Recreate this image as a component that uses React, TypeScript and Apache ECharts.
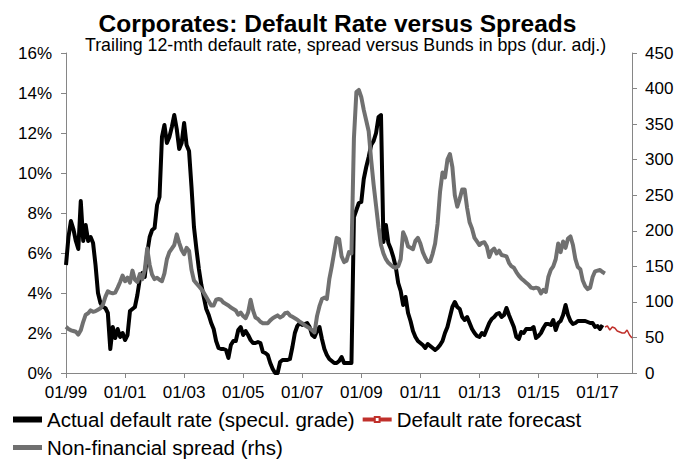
import React, { useEffect, useRef } from "react";
import * as echarts from "echarts";

// Monthly observations, January 1999 onwards
const START_YEAR = 1999;
const MONTH_COUNT = 231; // 01/99 .. 03/18

// Trailing 12-month speculative-grade default rate (%), one value per month from 01/99
const defaultRate: number[] = [
  5.4, 6.8, 7.6, 7.2, 6.6, 6.2, 8.6, 6.6, 7.4, 6.6, 6.8, 6.5,
  5.4, 4.0, 3.5, 3.3, 3.25, 3.0, 1.2, 2.3, 1.75, 2.2, 1.8, 2.0,
  1.65, 1.9, 3.1, 3.2, 3.3, 3.9, 4.7, 5.0, 4.8, 6.0, 6.8, 7.15,
  7.25, 8.4, 8.8, 11.8, 12.4, 11.5, 11.8, 12.3, 12.9, 12.2, 11.2, 11.5,
  12.5, 11.4, 11.1, 9.3, 7.3, 6.2, 5.2, 4.4, 3.8, 3.2, 2.9, 2.5,
  2.2, 1.6, 1.25, 1.2, 1.2, 1.15, 0.75, 1.4, 1.6, 1.6, 2.15, 2.3,
  1.9, 2.1, 1.9, 1.65, 1.5, 1.5, 1.55, 1.5, 1.05, 1.0, 0.9, 0.5,
  0.2, 0.0, 0.0, 0.55, 0.65, 0.65, 0.65, 0.7, 1.3, 2.0, 2.35, 2.5,
  2.4, 2.45, 2.5, 2.3, 1.9, 1.8, 2.1, 2.3, 1.7, 1.2, 0.9, 0.7,
  0.6, 0.5, 0.5, 0.6, 0.8, 0.5, 0.5, 0.5, 0.5, 7.8, 8.15, 8.5,
  8.55, 9.7, 10.3, 10.8, 11.4, 11.6, 12.0, 12.8, 12.9, 6.55, 7.4, 6.5,
  6.2, 5.8, 5.3, 4.5, 4.1, 3.4, 3.8, 3.0, 2.6, 2.1, 1.8, 1.6,
  1.5, 1.4, 1.25, 1.45, 1.35, 1.25, 1.15, 1.25, 1.4, 1.6, 2.0, 2.3,
  2.8, 3.3, 3.55, 3.3, 3.2, 2.8, 2.65, 2.8, 2.5, 2.2, 2.0, 1.85,
  1.8, 2.0, 1.9, 2.2, 2.5, 2.7, 2.8, 2.95, 3.0, 2.8, 2.9, 3.25,
  2.9, 2.6, 2.3, 1.8, 1.7, 2.05, 2.0, 2.2, 2.2, 2.2, 2.3, 1.75,
  1.85, 2.0, 2.25, 2.45, 2.45, 2.4, 2.65, 2.15, 2.5, 2.6, 2.9, 3.4,
  2.9, 2.6, 2.45, 2.5, 2.6, 2.6, 2.6, 2.6, 2.55, 2.5, 2.5, 2.3,
  2.35, 2.2, 2.4,
];

// Forecast of the default rate (%), starting at month index FORECAST_START
const FORECAST_START = 219;
const forecastRate: number[] = [2.3, 2.35, 2.15, 2.3, 2.25, 2.1, 2.05, 2.0, 2.0, 2.15, 1.9, 1.75];

// Non-financial corporate spread versus Bunds (bps, duration adjusted), monthly from 01/99
const spread: number[] = [
  65, 62, 60, 59, 58, 54, 60, 72, 82, 84, 88, 86,
  87, 89, 91, 96, 107, 115, 113, 112, 113, 120, 128, 137,
  129, 134, 127, 144, 131, 128, 139, 132, 145, 175, 152, 138,
  132, 134, 131, 129, 140, 160, 170, 175, 180, 195, 183, 173,
  167, 176, 172, 145, 130, 126, 122, 118, 113, 107, 101, 95,
  95, 103, 104, 103, 99, 97, 95, 92, 90, 88, 82, 85,
  80, 77, 85, 103, 88, 78, 76, 72, 70, 70, 70, 74,
  77, 79, 81, 78, 80, 84, 85, 81, 79, 77, 75, 72,
  70, 67, 65, 63, 60, 57, 80, 94, 104, 106, 104, 132,
  150, 170, 190, 188, 164, 156, 158, 170, 168, 330, 395, 398,
  388, 370, 355, 340, 300, 265, 235, 205, 180, 168, 160, 155,
  152, 149, 148, 150, 160, 198, 190, 178, 176, 174, 186, 190,
  182, 170, 162, 156, 157, 168, 182, 210, 255, 282, 275, 300,
  308, 290, 250, 234, 245, 258, 258, 232, 212, 203, 190, 185,
  180, 183, 184, 178, 163, 172, 175, 168, 172, 166, 165, 164,
  155, 150, 148, 142, 137, 133, 130, 127, 124, 120, 119, 120,
  119, 112, 117, 114, 135, 145, 150, 160, 182, 170, 185, 176,
  189, 192, 180, 160, 149, 146, 130, 122, 118, 120, 135, 143,
  144, 145, 142, 140,
];

const SERIES_ACTUAL = "Actual default rate (specul. grade)";
const SERIES_FORECAST = "Default rate forecast";
const SERIES_SPREAD = "Non-financial spread (rhs)";

const FONT = "'Liberation Sans', Arial, Helvetica, sans-serif";
const AXIS_GREY = "#868686";
const SPREAD_GREY = "#707070";
const FORECAST_RED = "#C0302B";

const monthLabels: string[] = Array.from({ length: MONTH_COUNT }, (_, i) => {
  const mm = String((i % 12) + 1).padStart(2, "0");
  const yy = String((START_YEAR + Math.floor(i / 12)) % 100).padStart(2, "0");
  return `${mm}/${yy}`;
});

const everyTwoYears = (index: number) => index % 24 === 0;

export default function App() {
  const ref = useRef<HTMLDivElement>(null);

  useEffect(() => {
    if (!ref.current) return;
    const chart = echarts.init(ref.current, undefined, { renderer: "svg" });

    const axisLine = { show: true, lineStyle: { color: AXIS_GREY, width: 1 } };
    const axisTick = { show: true, length: 5, lineStyle: { color: AXIS_GREY, width: 1 } };
    const labelStyle = { color: "#000", fontSize: 17, fontFamily: FONT };
    const legendText = { color: "#000", fontSize: 20.5, fontFamily: FONT };

    chart.setOption({
      animation: false,
      backgroundColor: "#fff",
      title: [
        {
          text: "Corporates: Default Rate versus Spreads",
          left: "center",
          top: 6,
          textStyle: { fontSize: 24.5, fontWeight: "bold", color: "#000", fontFamily: FONT },
        },
        {
          text: "Trailing 12-mth default rate, spread versus Bunds in bps (dur. adj.)",
          left: 85,
          top: 36,
          padding: 0,
          textStyle: { fontSize: 17.8, fontWeight: "normal", color: "#000", fontFamily: FONT },
        },
      ],
      grid: {
        left: 66,
        right: 43,
        top: 53,
        bottom: 86,
        containLabel: false,
        outerBoundsMode: "none",
      },
      legend: [
        {
          data: [
            { name: SERIES_ACTUAL, icon: "rect" },
            { name: SERIES_FORECAST, lineStyle: { width: 4 } },
          ],
          left: 13,
          top: 409,
          padding: 0,
          itemWidth: 29,
          itemHeight: 6,
          itemGap: 6,
          lineStyle: { width: 4 },
          selectedMode: false,
          textStyle: legendText,
        },
        {
          data: [{ name: SERIES_SPREAD, icon: "rect" }],
          left: 13,
          top: 437,
          padding: 0,
          itemWidth: 29,
          itemHeight: 5,
          selectedMode: false,
          textStyle: legendText,
        },
      ],
      xAxis: {
        type: "category",
        data: monthLabels,
        boundaryGap: false,
        axisLine,
        axisTick: { ...axisTick, interval: everyTwoYears },
        axisLabel: { ...labelStyle, interval: everyTwoYears, margin: 11 },
        splitLine: { show: false },
      },
      yAxis: [
        {
          type: "value",
          min: 0,
          max: 16,
          interval: 2,
          position: "left",
          axisLine,
          axisTick,
          axisLabel: { ...labelStyle, formatter: "{value}%", margin: 14 },
          splitLine: { show: false },
        },
        {
          type: "value",
          min: 0,
          max: 450,
          interval: 50,
          position: "right",
          axisLine,
          axisTick,
          axisLabel: { ...labelStyle, margin: 13 },
          splitLine: { show: false },
        },
      ],
      series: [
        {
          name: SERIES_ACTUAL,
          type: "line",
          yAxisIndex: 0,
          data: defaultRate,
          showSymbol: false,
          symbol: "none",
          color: "#000",
          lineStyle: { color: "#000", width: 4, join: "round" },
        },
        {
          name: SERIES_SPREAD,
          type: "line",
          yAxisIndex: 1,
          data: spread,
          showSymbol: false,
          symbol: "none",
          color: SPREAD_GREY,
          lineStyle: { color: SPREAD_GREY, width: 4, join: "round" },
        },
        {
          name: SERIES_FORECAST,
          type: "line",
          yAxisIndex: 0,
          data: forecastRate.map((v, i) => [FORECAST_START + i, v]),
          symbol: "rect",
          symbolSize: 6.5,
          showSymbol: true,
          clip: false,
          color: FORECAST_RED,
          itemStyle: { color: "#fff", borderColor: FORECAST_RED, borderWidth: 1.2 },
          lineStyle: { color: FORECAST_RED, width: 1.5 },
        },
      ],
    });

    return () => chart.dispose();
  }, []);

  return (
    <div
      ref={ref}
      style={{ position: "fixed", left: 0, top: 0, width: 675, height: 459 }}
    />
  );
}
